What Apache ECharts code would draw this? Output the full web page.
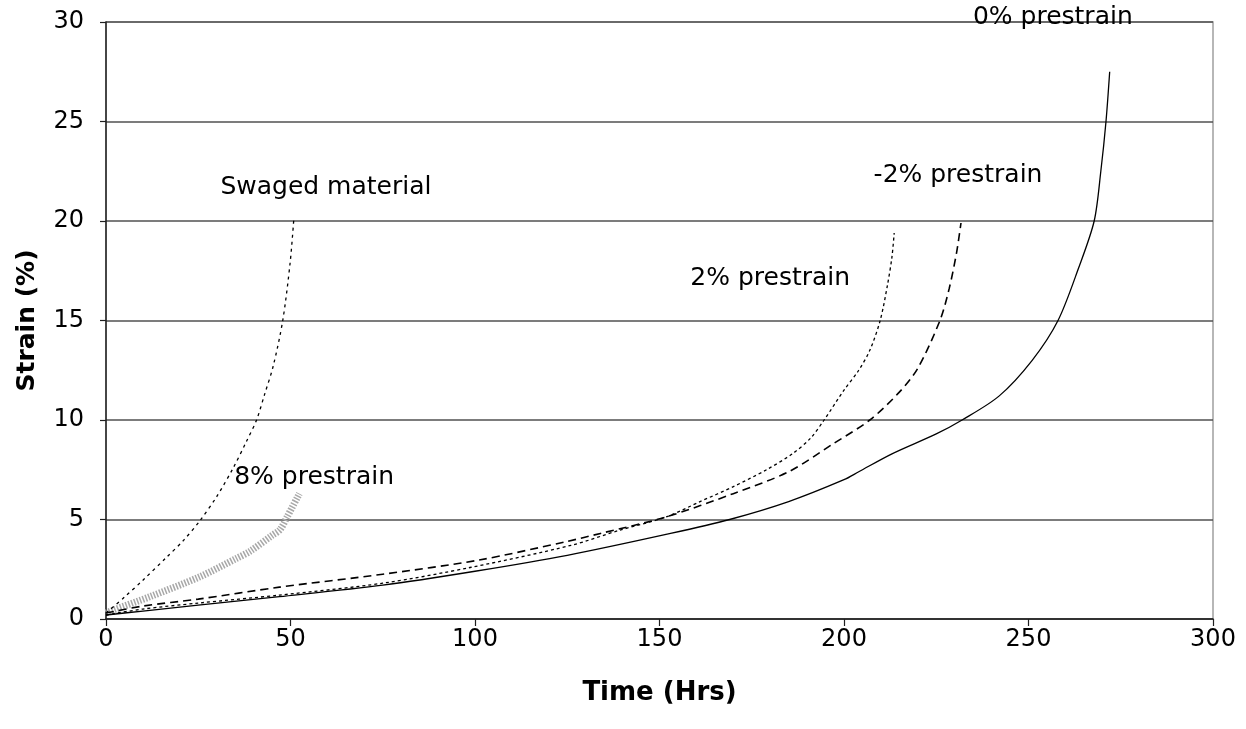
<!DOCTYPE html>
<html>
<head>
<meta charset="utf-8">
<script src="https://cdn.jsdelivr.net/npm/echarts@6/dist/echarts.min.js"></script>
<style>
html,body{margin:0;padding:0;background:#fff;}
#c{width:1246px;height:729px;}
</style>
</head>
<body>
<div id="c"></div>
<script>
// Data (Time in Hrs, Strain in %)
const prestrain0 = [[0,0.2],[10,0.4],[25,0.7],[47,1.12],[75,1.7],[100,2.4],[125,3.2],[153,4.3],[169,5.0],[185,5.9],[200,7.0],[204,7.4],[213,8.3],[225,9.3],[232,10],[242,11.2],[251,13],[258,15],[263.5,17.6],[267.8,20],[269.6,22.5],[271,25],[272,27.5]];
const prestrainMinus2 = [[0,0.3],[10,0.65],[25,1.0],[47,1.6],[75,2.25],[101,2.96],[125,3.9],[134,4.3],[152,5.14],[170,6.3],[185,7.4],[197,8.8],[207,10.0],[215,11.4],[220,12.6],[226,15],[228.5,16.6],[230.5,18.4],[231.7,19.9]];
const prestrain2 = [[0,0.2],[10,0.5],[25,0.8],[47,1.2],[75,1.8],[99,2.6],[126,3.7],[139,4.45],[152,5.14],[161,5.9],[170,6.65],[179,7.5],[186,8.3],[191,9.1],[194.6,10],[200,11.5],[204,12.5],[207,13.5],[209.8,15],[211.8,16.8],[213,18.2],[213.6,19.4]];
const swaged = [[0,0.3],[5,1.1],[10,1.95],[16.4,3.1],[21,3.95],[25.5,4.95],[30,6.15],[34.5,7.6],[38,8.9],[40.8,10],[43,11.3],[45.3,12.7],[47.9,15],[49.9,17.9],[50.9,20.1]];
const prestrain8 = [[0,0.3],[2,0.45],[11.9,1.12],[25.5,2.13],[35.4,3.05],[39,3.4],[45,4.2],[47.2,4.5],[49,5.1],[52.4,6.3]];
const xTicks = [0,50,100,150,200,250,300];
const yTicks = [0,5,10,15,20,25,30];
// annotation texts with their anchor position in data units
const annotations = [
  {text:'0% prestrain', at:[256.6,30.25]},
  {text:'-2% prestrain', at:[230.9,22.3]},
  {text:'2% prestrain', at:[180,17.1]},
  {text:'Swaged material', at:[59.6,21.7]},
  {text:'8% prestrain', at:[56.4,7.1]}
];

const FONT = 'DejaVu Sans';
const chart = echarts.init(document.getElementById('c'), null, {renderer:'canvas'});

function line(name, data, style, z){
  return {
    name, type:'line', data, showSymbol:false, symbol:'none', smooth:0.3,
    lineStyle: style, z: z||2, clip:false, animation:false
  };
}

const labelStyle = {show:true, position:'inside', fontFamily:FONT, fontSize:25, color:'#000', textBorderWidth:0, opacity:1};

const option = {
  backgroundColor:'#fff',
  animation:false,
  grid:{left:106, right:33, top:22, bottom:110, show:true, borderColor:'#a0a0a0', borderWidth:1.5, backgroundColor:'transparent'},
  xAxis:{
    type:'value', min:0, max:300, interval:50,
    name:'Time (Hrs)', nameLocation:'middle', nameGap:61,
    nameTextStyle:{fontFamily:FONT, fontWeight:'bold', fontSize:26, color:'#000'},
    axisLine:{show:true, onZero:false, lineStyle:{color:'#202020', width:1.5}},
    axisTick:{show:true, length:7, inside:false, lineStyle:{color:'#202020', width:1.2}},
    axisLabel:{fontFamily:FONT, fontSize:24, color:'#000', margin:9, formatter:(v)=> xTicks.includes(v)? String(v):''},
    splitLine:{show:false}
  },
  yAxis:{
    type:'value', min:0, max:30, interval:5,
    name:'Strain (%)', nameLocation:'middle', nameGap:66, nameRotate:90,
    nameTextStyle:{fontFamily:FONT, fontWeight:'bold', fontSize:25, color:'#000'},
    axisLine:{show:true, lineStyle:{color:'#202020', width:1.5}},
    axisTick:{show:true, length:6, inside:false, lineStyle:{color:'#202020', width:1.2}},
    axisLabel:{fontFamily:FONT, fontSize:24, color:'#000', margin:22, formatter:(v)=> yTicks.includes(v)? String(v):''},
    splitLine:{show:true, lineStyle:{color:'#505050', width:1.5}}
  },
  series:[
    line('8% prestrain', prestrain8, {color:'#a8a8a8', width:7, type:[1.5,1.5]}, 1),
    line('0% prestrain', prestrain0, {color:'#000', width:1.3, type:'solid'}),
    line('-2% prestrain', prestrainMinus2, {color:'#000', width:1.6, type:[8,5]}),
    line('2% prestrain', prestrain2, {color:'#000', width:1.3, type:[3,3]}),
    line('Swaged material', swaged, {color:'#000', width:1.3, type:[3,4]}),
    {
      type:'scatter', name:'labels', symbolSize:0, silent:true, animation:false,
      itemStyle:{color:'#000', opacity:1},
      data: annotations.map(a=>({value:a.at, label:Object.assign({}, labelStyle, {formatter:a.text})})),
      label:labelStyle,
      z:5, clip:false
    }
  ]
};
chart.setOption(option);
</script>
</body>
</html>
